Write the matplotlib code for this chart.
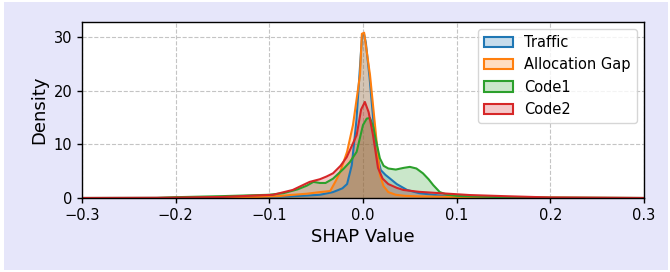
import matplotlib
matplotlib.use("Agg")
import matplotlib.pyplot as plt
from matplotlib.patches import Rectangle, Patch

# SHAP value grid points and densities per feature
traffic_x = [-0.30, -0.20, -0.12, -0.08, -0.06, -0.046, -0.032, -0.022, -0.017, -0.012, -0.007,
             -0.003, -0.001, 0.001, 0.003, 0.007, 0.011, 0.015, 0.019, 0.024, 0.029, 0.036, 0.047, 0.06,
             0.08, 0.10, 0.15, 0.20, 0.30]
traffic_y = [0.0, 0.03, 0.12, 0.3, 0.45, 0.6, 1.1, 1.8, 2.6, 6.1, 14.5,
             25.0, 30.3, 30.6, 29.0, 22.5, 14.5, 8.0, 5.2, 4.3, 3.6, 2.6, 1.5, 0.9,
             0.5, 0.3, 0.1, 0.03, 0.0]

alloc_x = [-0.30, -0.20, -0.12, -0.09, -0.078, -0.06, -0.046, -0.035, -0.029, -0.0245, -0.017,
           -0.0107, -0.0032, -0.0012, 0.0012, 0.003, 0.0075, 0.0128, 0.018, 0.022, 0.027, 0.035,
           0.045, 0.06, 0.08, 0.10, 0.15, 0.22, 0.30]
alloc_y = [0.0, 0.02, 0.15, 0.35, 0.55, 0.8, 1.1, 1.3, 3.2, 4.8, 8.6,
           13.6, 22.9, 30.6, 30.8, 28.5, 22.9, 13.6, 4.3, 2.2, 1.1, 0.6,
           0.4, 0.3, 0.25, 0.2, 0.12, 0.05, 0.0]

code1_x = [-0.30, -0.22, -0.20, -0.15, -0.10, -0.085, -0.07, -0.06, -0.053, -0.046, -0.04,
           -0.032, -0.021, -0.014, -0.0068, 0.0, 0.004, 0.0075, 0.011, 0.0128, 0.018, 0.022,
           0.027, 0.035, 0.043, 0.05, 0.057, 0.064, 0.07, 0.075, 0.082, 0.09, 0.10, 0.15, 0.20,
           0.30]
code1_y = [0.0, 0.0, 0.15, 0.35, 0.6, 0.9, 1.6, 2.3, 3.0, 2.8, 2.8,
           3.6, 5.4, 6.7, 8.6, 13.6, 14.8, 14.9, 13.2, 11.6, 7.4, 6.0,
           5.5, 5.3, 5.6, 5.8, 5.5, 4.6, 3.5, 2.4, 1.1, 0.6, 0.4, 0.15, 0.05,
           0.0]

code2_x = [-0.30, -0.22, -0.15, -0.096, -0.075, -0.057, -0.046, -0.039, -0.032, -0.024,
           -0.0174, -0.0068, -0.002, 0.002, 0.006, 0.0107, 0.016, 0.021, 0.027, 0.036,
           0.043, 0.06, 0.082, 0.114, 0.15, 0.20, 0.30]
code2_y = [0.0, 0.03, 0.2, 0.6, 1.5, 3.0, 3.5, 4.0, 4.6, 6.0,
           7.6, 11.7, 16.5, 17.9, 16.0, 11.7, 5.6, 3.6, 2.6, 1.9,
           1.5, 1.15, 0.9, 0.55, 0.35, 0.1, 0.0]

labels = ["Traffic", "Allocation Gap", "Code1", "Code2"]
colors = ["#1f77b4", "#ff7f0e", "#2ca02c", "#d62728"]
series = [(traffic_x, traffic_y), (alloc_x, alloc_y), (code1_x, code1_y), (code2_x, code2_y)]

fig = plt.figure(figsize=(6.7, 2.72), dpi=100, facecolor="white")
fig.patches.append(Rectangle((4 / 670, 2 / 272), 664 / 670, 268 / 272,
                             transform=fig.transFigure, facecolor="#e6e6fa",
                             edgecolor="none", zorder=-10))
ax = fig.add_axes([82 / 670, 74 / 272, 562 / 670, 176 / 272])

handles = []
for (xs, ys), lab, c in zip(series, labels, colors):
    ax.fill_between(xs, ys, 0, color=c, alpha=0.25, linewidth=0)
    ax.plot(xs, ys, color=c, linewidth=1.5)
    handles.append(Patch(facecolor=matplotlib.colors.to_rgba(c, 0.25), edgecolor=c,
                         linewidth=1.5, label=lab))

ax.set_xlim(-0.3, 0.3)
ax.set_ylim(0, 32.8)
ax.set_xticks([-0.3, -0.2, -0.1, 0.0, 0.1, 0.2, 0.3])
ax.set_yticks([0, 10, 20, 30])
ax.tick_params(labelsize=10.5, width=1.0)
for s in ax.spines.values():
    s.set_linewidth(1.0)
ax.grid(True, linestyle="--", color="#c4c4c4", linewidth=0.8)
ax.set_axisbelow(True)
ax.set_xlabel("SHAP Value", fontsize=13)
ax.set_ylabel("Density", fontsize=13)
ax.legend(handles=handles, loc="upper right", fontsize=10.5, framealpha=0.8)

fig.savefig("out.png", dpi=100, facecolor=fig.get_facecolor())
